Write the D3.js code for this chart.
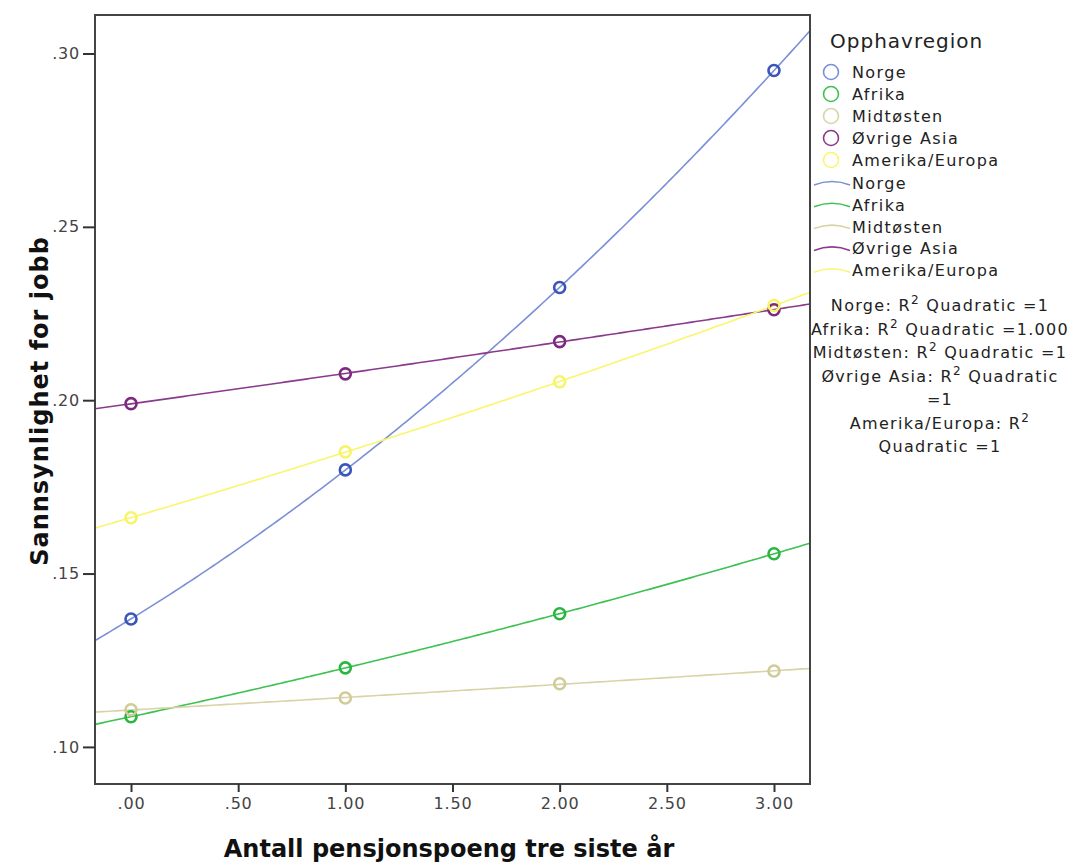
<!DOCTYPE html>
<html>
<head>
<meta charset="utf-8">
<script src="https://cdn.jsdelivr.net/npm/d3@7"></script>
<style>
  body { margin: 0; background: #fff; }
  text { font-family: "DejaVu Sans", Verdana, sans-serif; }
</style>
</head>
<body>
<svg id="chart"></svg>
<script>
const regions = ["Norge", "Afrika", "Midtøsten", "Øvrige Asia", "Amerika/Europa"];
const xValues = [0, 1, 2, 3];
const norge = [0.1369, 0.1799, 0.2325, 0.2951];
const afrika = [0.1087, 0.1228, 0.1384, 0.1557];
const midtosten = [0.1107, 0.1141, 0.1182, 0.1219];
const ovrigeAsia = [0.1990, 0.2076, 0.2169, 0.2261];
const amerikaEuropa = [0.1661, 0.1851, 0.2053, 0.2273];
const xTicks = [0, 0.5, 1, 1.5, 2, 2.5, 3];
const yTicks = [0.10, 0.15, 0.20, 0.25, 0.30];
const r2Labels = ["=1", "=1.000", "=1", "=1", "=1"];

const series = [norge, afrika, midtosten, ovrigeAsia, amerikaEuropa];
const markerColors = ["#3a55b8", "#2bb541", "#d0cb98", "#7c2a80", "#f8f46a"];
const lineColors = ["#7b8fd6", "#3cc252", "#d8d4a6", "#8a3a8c", "#f9f66e"];

const W = 1073, H = 863;
const svg = d3.select("#chart").attr("width", W).attr("height", H);

const x = d3.scaleLinear().domain([-0.168, 3.168]).range([95, 810]);
const y = d3.scaleLinear().domain([0.0893, 0.3111]).range([784, 15]);

// quadratic least squares fit
function quadFit(xs, ys) {
  const n = xs.length;
  let s = [0, 0, 0, 0, 0], t = [0, 0, 0];
  for (let i = 0; i < n; i++) {
    let p = 1;
    for (let k = 0; k < 5; k++) { s[k] += p; if (k < 3) t[k] += p * ys[i]; p *= xs[i]; }
  }
  const A = [[s[0], s[1], s[2], t[0]], [s[1], s[2], s[3], t[1]], [s[2], s[3], s[4], t[2]]];
  for (let i = 0; i < 3; i++) {
    for (let j = i + 1; j < 3; j++) {
      const f = A[j][i] / A[i][i];
      for (let k = i; k < 4; k++) A[j][k] -= f * A[i][k];
    }
  }
  const c = [0, 0, 0];
  for (let i = 2; i >= 0; i--) {
    let v = A[i][3];
    for (let k = i + 1; k < 3; k++) v -= A[i][k] * c[k];
    c[i] = v / A[i][i];
  }
  return xv => c[0] + c[1] * xv + c[2] * xv * xv;
}

svg.append("clipPath").attr("id", "plotclip")
  .append("rect").attr("x", 95).attr("y", 15).attr("width", 715).attr("height", 769);

const plot = svg.append("g").attr("clip-path", "url(#plotclip)");

const line = d3.line().x(d => x(d[0])).y(d => y(d[1]));
const dom = x.domain();
const grid = d3.range(0, 201).map(i => dom[0] + (dom[1] - dom[0]) * i / 200);

series.forEach((vals, i) => {
  const f = quadFit(xValues, vals);
  plot.append("path")
    .datum(grid.map(v => [v, f(v)]))
    .attr("fill", "none")
    .attr("stroke", lineColors[i])
    .attr("stroke-width", 1.6)
    .attr("d", line);
});

series.forEach((vals, i) => {
  plot.selectAll(null)
    .data(xValues.map((v, j) => [v, vals[j]]))
    .enter().append("circle")
    .attr("cx", d => x(d[0]))
    .attr("cy", d => y(d[1]))
    .attr("r", 5.5)
    .attr("fill", "none")
    .attr("stroke", markerColors[i])
    .attr("stroke-width", 2.6);
});

// frame
svg.append("rect")
  .attr("x", 95).attr("y", 15).attr("width", 715).attr("height", 769)
  .attr("fill", "none").attr("stroke", "#444").attr("stroke-width", 2);

const fmt = d => d3.format(".2f")(d).replace(/^0/, "");
const xAxis = svg.append("g").attr("transform", "translate(0,784)")
  .call(d3.axisBottom(x).tickValues(xTicks).tickSize(8).tickPadding(6).tickFormat(fmt));
const yAxis = svg.append("g").attr("transform", "translate(95,0)")
  .call(d3.axisLeft(y).tickValues(yTicks).tickSize(12).tickPadding(3).tickFormat(fmt));

[xAxis, yAxis].forEach(a => {
  a.select(".domain").remove();
  a.selectAll(".tick line").attr("stroke", "#333").attr("stroke-width", 2);
  a.selectAll(".tick text").attr("fill", "#444")
    .style("font-size", "16px").style("letter-spacing", "0.8px")
    .style("font-family", "'DejaVu Sans', Verdana, sans-serif");
});

svg.append("text")
  .attr("x", 449).attr("y", 857)
  .attr("text-anchor", "middle")
  .style("font-size", "24px").style("font-weight", "bold").attr("fill", "#111")
  .text("Antall pensjonspoeng tre siste år");

svg.append("text")
  .attr("transform", "translate(48,401) rotate(-90)")
  .attr("text-anchor", "middle")
  .style("font-size", "24px").style("font-weight", "bold").style("letter-spacing", "1px")
  .attr("fill", "#111")
  .text("Sannsynlighet for jobb");

// legend
const lg = svg.append("g");
lg.append("text").attr("x", 830).attr("y", 48)
  .style("font-size", "20px").style("letter-spacing", "1px").attr("fill", "#222")
  .text("Opphavregion");

regions.forEach((r, i) => {
  const cy = 72 + i * 22;
  lg.append("circle").attr("cx", 831).attr("cy", cy).attr("r", 7.5)
    .attr("fill", "none").attr("stroke", lineColors[i]).attr("stroke-width", 1.6);
  lg.append("text").attr("x", 852).attr("y", cy + 6)
    .style("font-size", "16px").style("letter-spacing", "1.4px").attr("fill", "#222").text(r);
});
regions.forEach((r, i) => {
  const cy = 183 + i * 21.8;
  lg.append("path")
    .attr("d", `M814,${cy + 2} Q832,${cy - 5} 850,${cy + 2}`)
    .attr("fill", "none").attr("stroke", lineColors[i]).attr("stroke-width", 1.6);
  lg.append("text").attr("x", 852).attr("y", cy + 6)
    .style("font-size", "16px").style("letter-spacing", "1.4px").attr("fill", "#222").text(r);
});

// R squared annotations
const r2Lines = [];
regions.forEach((r, i) => {
  if (r === "Øvrige Asia") {
    r2Lines.push({ pre: r + ": R", post: " Quadratic" });
    r2Lines.push({ pre: r2Labels[i], post: null });
  } else if (r === "Amerika/Europa") {
    r2Lines.push({ pre: r + ": R", post: "" });
    r2Lines.push({ pre: "Quadratic " + r2Labels[i], post: null });
  } else {
    r2Lines.push({ pre: r + ": R", post: " Quadratic " + r2Labels[i] });
  }
});
r2Lines.forEach((l, i) => {
  const t = lg.append("text").attr("x", 940).attr("y", 311 + i * 23.5)
    .attr("text-anchor", "middle").style("font-size", "16px").style("letter-spacing", "1.3px")
    .attr("fill", "#222");
  t.append("tspan").text(l.pre);
  if (l.post !== null) {
    t.append("tspan").attr("dy", -7).style("font-size", "12px").text("2");
    t.append("tspan").attr("dy", 7).text(l.post);
  }
});
</script>
</body>
</html>
